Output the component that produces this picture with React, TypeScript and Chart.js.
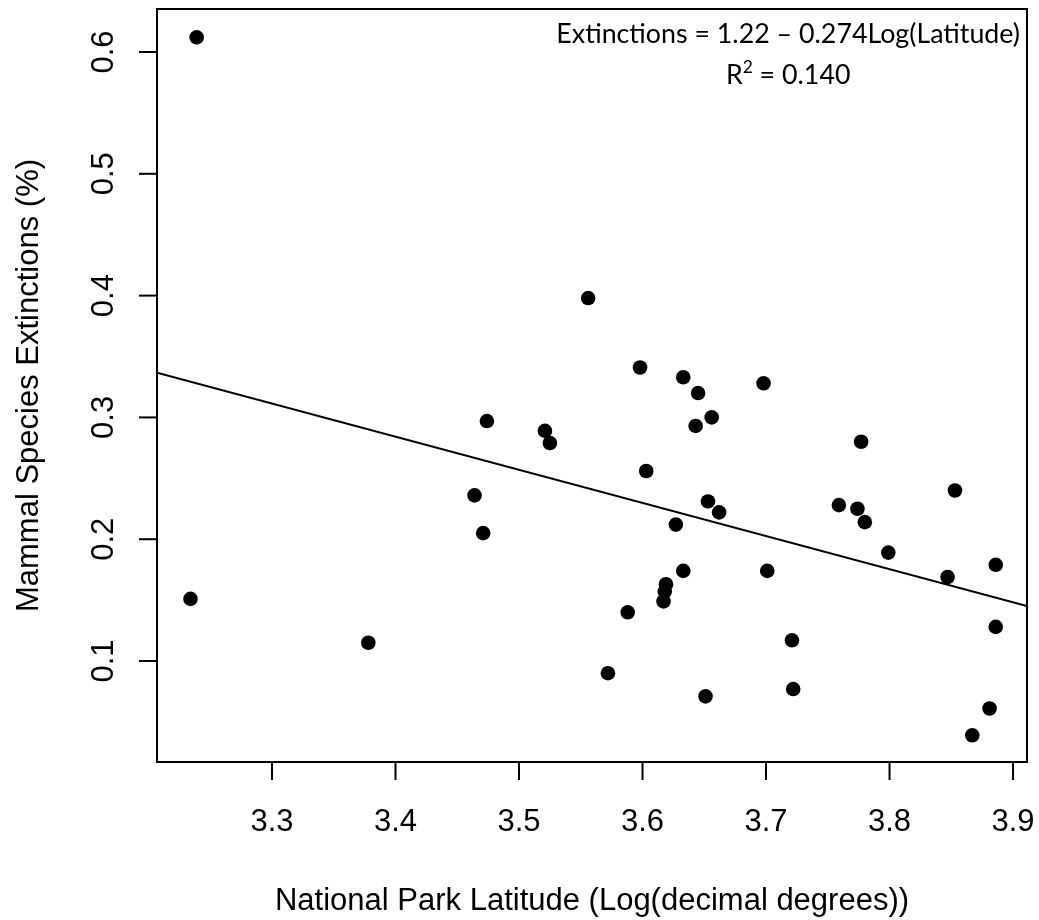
import React, { useEffect, useRef } from "react";
import { Chart, registerables } from "chart.js";

Chart.register(...registerables);

// Log(latitude) of each park
const latitudeLog = [
  3.239, 3.234, 3.378, 3.464, 3.471, 3.474, 3.521, 3.525, 3.556, 3.572,
  3.588, 3.598, 3.603, 3.617, 3.618, 3.619, 3.627, 3.633, 3.633, 3.643,
  3.645, 3.651, 3.653, 3.656, 3.662, 3.698, 3.701, 3.721, 3.722, 3.759,
  3.774, 3.777, 3.780, 3.799, 3.847, 3.853, 3.867, 3.881, 3.886, 3.886,
];
// Mammal species extinctions (%)
const extinctions = [
  0.612, 0.151, 0.115, 0.236, 0.205, 0.297, 0.289, 0.279, 0.398, 0.090,
  0.140, 0.341, 0.256, 0.149, 0.157, 0.163, 0.212, 0.333, 0.174, 0.293,
  0.320, 0.071, 0.231, 0.300, 0.222, 0.328, 0.174, 0.117, 0.077, 0.228,
  0.225, 0.280, 0.214, 0.189, 0.169, 0.240, 0.039, 0.061, 0.179, 0.128,
];

const xTickValues = [3.3, 3.4, 3.5, 3.6, 3.7, 3.8, 3.9];
const yTickValues = [0.1, 0.2, 0.3, 0.4, 0.5, 0.6];
const xLimits = [3.2069, 3.9113];
const yLimits = [0.0171, 0.6353];

// fitted line end points
const trendX = [3.2069, 3.9113];
const trendY = [0.3367, 0.1452];

const xTitle = "National Park Latitude (Log(decimal degrees))";
const yTitle = "Mammal Species Extinctions (%)";
const equationText = "Extinctions = 1.22 \u2013 0.274Log(Latitude)";
const r2Label = "R";
const r2Sup = "2";
const r2Value = " = 0.140";

const AXIS_FONT = '31px "Liberation Sans", Arial, Helvetica, sans-serif';
const EQ_FAMILY = 'Lato, "Open Sans", sans-serif';

const decorPlugin = {
  id: "rDecor",
  afterDraw(chart: any) {
    const ctx = chart.ctx as CanvasRenderingContext2D;
    const { left, top, right, bottom } = chart.chartArea;
    const xs = chart.scales.x;
    const ys = chart.scales.y;
    ctx.save();
    ctx.strokeStyle = "#000";
    ctx.fillStyle = "#000";
    ctx.lineWidth = 2;
    ctx.strokeRect(left, top, right - left, bottom - top);

    ctx.font = AXIS_FONT;
    ctx.textAlign = "center";
    ctx.textBaseline = "alphabetic";
    // x ticks
    for (const t of xs.ticks) {
      const px = xs.getPixelForValue(t.value);
      ctx.beginPath();
      ctx.moveTo(px, bottom);
      ctx.lineTo(px, bottom + 18);
      ctx.stroke();
      ctx.fillText(Number(t.value).toFixed(1), px, bottom + 69);
    }
    // y ticks
    for (const t of ys.ticks) {
      const py = ys.getPixelForValue(t.value);
      ctx.beginPath();
      ctx.moveTo(left - 18, py);
      ctx.lineTo(left, py);
      ctx.stroke();
      ctx.save();
      ctx.translate(left - 44, py);
      ctx.rotate(-Math.PI / 2);
      ctx.fillText(Number(t.value).toFixed(1), 0, 0);
      ctx.restore();
    }
    // axis titles
    ctx.fillText(xTitle, (left + right) / 2, bottom + 148);
    ctx.save();
    ctx.translate(38, (top + bottom) / 2);
    ctx.rotate(-Math.PI / 2);
    ctx.fillText(yTitle, 0, 0);
    ctx.restore();

    // equation
    ctx.font = `25px ${EQ_FAMILY}`;
    const w25 = ctx.measureText(equationText).width;
    const fs = (25 * 464) / w25;
    ctx.font = `${fs}px ${EQ_FAMILY}`;
    const w = ctx.measureText(equationText).width;
    const cx = right - 7 - w / 2;
    ctx.textAlign = "center";
    ctx.fillText(equationText, cx, top + 34);

    ctx.textAlign = "left";
    const supFs = fs * 0.65;
    ctx.font = `${fs}px ${EQ_FAMILY}`;
    const wR = ctx.measureText(r2Label).width;
    const wV = ctx.measureText(r2Value).width;
    ctx.font = `${supFs}px ${EQ_FAMILY}`;
    const wS = ctx.measureText(r2Sup).width;
    const total = wR + wS + wV;
    let x0 = cx - total / 2;
    const base = top + 75;
    ctx.font = `${fs}px ${EQ_FAMILY}`;
    ctx.fillText(r2Label, x0, base);
    x0 += wR;
    ctx.font = `${supFs}px ${EQ_FAMILY}`;
    ctx.fillText(r2Sup, x0, base - fs * 0.42);
    x0 += wS;
    ctx.font = `${fs}px ${EQ_FAMILY}`;
    ctx.fillText(r2Value, x0, base);
    ctx.restore();
  },
};

export default function App() {
  const canvasRef = useRef<HTMLCanvasElement | null>(null);

  useEffect(() => {
    if (!canvasRef.current) return;
    const points = latitudeLog.map((x, i) => ({ x, y: extinctions[i] }));
    const trend = trendX.map((x, i) => ({ x, y: trendY[i] }));
    const chart = new Chart(canvasRef.current, {
      type: "scatter",
      data: {
        datasets: [
          {
            label: "fit",
            data: trend,
            showLine: true,
            borderColor: "#000",
            borderWidth: 2,
            pointRadius: 0,
            order: 1,
          } as any,
          {
            label: "parks",
            data: points,
            pointRadius: 7.3,
            pointHoverRadius: 7.3,
            backgroundColor: "#000",
            borderColor: "#000",
            borderWidth: 0,
            order: 2,
          },
        ],
      },
      options: {
        responsive: false,
        animation: false,
        devicePixelRatio: 1,
        events: [],
        layout: { padding: { top: 9, right: 12, left: 0, bottom: 0 } },
        plugins: {
          legend: { display: false },
          tooltip: { enabled: false },
        },
        scales: {
          x: {
            type: "linear",
            min: xLimits[0],
            max: xLimits[1],
            ticks: { display: false },
            grid: { display: false },
            border: { display: false },
            afterBuildTicks: (s: any) => {
              s.ticks = xTickValues.map((v) => ({ value: v }));
            },
            afterFit: (s: any) => {
              s.height = 158;
            },
          },
          y: {
            type: "linear",
            min: yLimits[0],
            max: yLimits[1],
            ticks: { display: false },
            grid: { display: false },
            border: { display: false },
            afterBuildTicks: (s: any) => {
              s.ticks = yTickValues.map((v) => ({ value: v }));
            },
            afterFit: (s: any) => {
              s.width = 157;
            },
          },
        },
      },
      plugins: [decorPlugin],
    });
    return () => chart.destroy();
  }, []);

  return (
    <div style={{ position: "absolute", left: 0, top: 0, width: 1039, height: 920, background: "#fff" }}>
      <canvas ref={canvasRef} width={1039} height={920} style={{ display: "block" }} />
    </div>
  );
}
